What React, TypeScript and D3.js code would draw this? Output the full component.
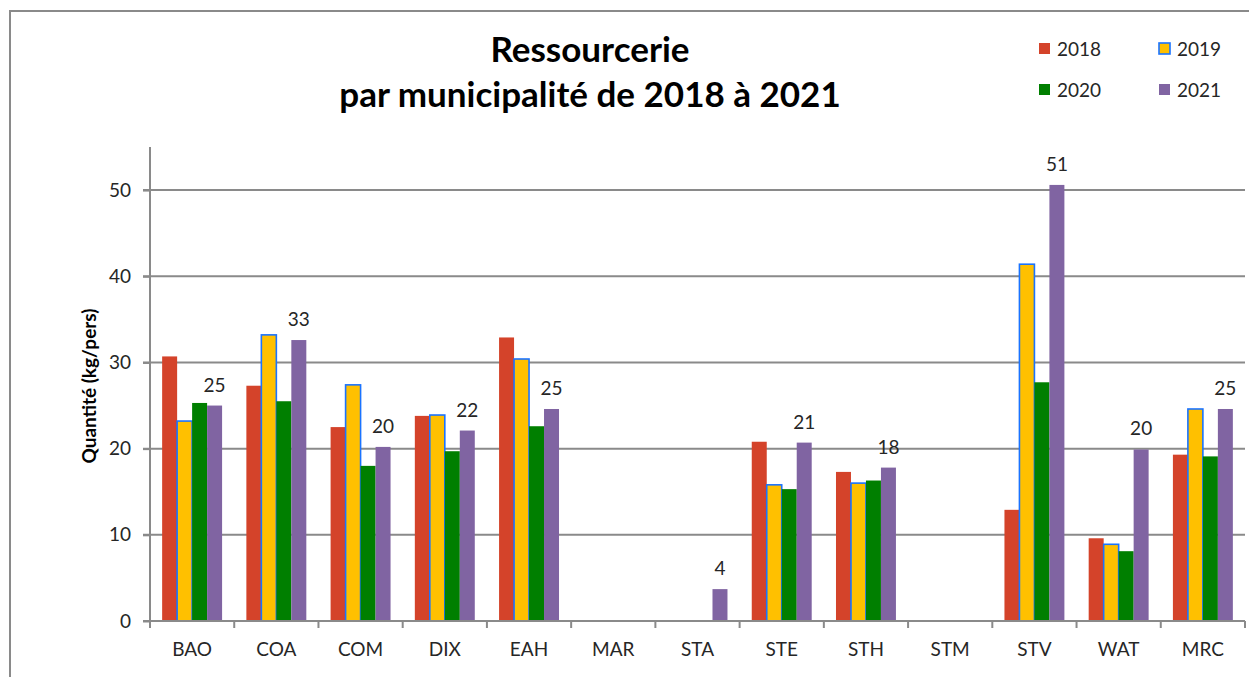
import { useEffect, useRef } from 'react';
import * as d3 from 'd3';

const categories = ['BAO', 'COA', 'COM', 'DIX', 'EAH', 'MAR', 'STA', 'STE', 'STH', 'STM', 'STV', 'WAT', 'MRC'];
const years = ['2018', '2019', '2020', '2021'];

// kg/pers, null = pas de donnée
const values2018 = [30.7, 27.3, 22.5, 23.8, 32.9, null, null, 20.8, 17.3, null, 12.9, 9.6, 19.3];
const values2019 = [23.2, 33.2, 27.4, 23.9, 30.4, null, null, 15.8, 16.0, null, 41.4, 8.9, 24.6];
const values2020 = [25.3, 25.5, 18.0, 19.7, 22.6, null, null, 15.3, 16.3, null, 27.7, 8.1, 19.1];
const values2021 = [25.0, 32.6, 20.2, 22.1, 24.6, null, 3.7, 20.7, 17.8, null, 50.6, 19.9, 24.6];

const yTicks = [0, 10, 20, 30, 40, 50];

const fills = ['#D4432A', '#FFC000', '#007F00', '#8064A2'];
const FONT = 'Lato, "Open Sans", sans-serif';
const TEXT = '#262626';
const GRID = '#8A8A8A';

const App: React.FC = () => {
  const svgRef = useRef<SVGSVGElement>(null);

  useEffect(() => {
    if (!svgRef.current) return;
    const svg = d3.select(svgRef.current);
    svg.selectAll('*').remove();

    const series = [values2018, values2019, values2020, values2021];
    const left = 150, right = 1245, top = 147, bottom = 621;

    const x0 = d3.scaleBand<string>().domain(categories).range([left, right]).padding(0);
    const x1 = d3.scaleBand<string>().domain(years).range([0, x0.bandwidth()]).paddingInner(0).paddingOuter(0.81);
    const y = d3.scaleLinear().domain([0, 55]).range([bottom, top]);

    // cadre
    svg.append('rect')
      .attr('x', 10).attr('y', 11)
      .attr('width', 1270).attr('height', 700)
      .style('fill', '#fff')
      .style('stroke', GRID)
      .style('stroke-width', '2px');

    // titre
    const title = svg.append('text')
      .attr('text-anchor', 'middle')
      .style('font-family', FONT)
      .style('font-weight', 'bold')
      .style('font-size', '35px')
      .style('fill', '#000');
    title.append('tspan').attr('x', 590).attr('y', 62).text('Ressourcerie');
    title.append('tspan').attr('x', 590).attr('y', 107).text('par municipalité de 2018 à 2021');

    // grille
    svg.append('g')
      .selectAll('line')
      .data(yTicks.filter(t => t > 0))
      .enter().append('line')
      .attr('x1', left - 7).attr('x2', right)
      .attr('y1', d => y(d)).attr('y2', d => y(d))
      .style('stroke', GRID).style('stroke-width', '2px');

    // axe y
    const yAxis = svg.append('g').attr('transform', `translate(${left},0)`)
      .call(d3.axisLeft(y).tickValues(yTicks).tickSize(7).tickPadding(12).tickFormat(d3.format('d')));
    yAxis.select('.domain').attr('d', `M0,${top}V${bottom + 7}`).style('stroke', GRID).style('stroke-width', '2px');
    yAxis.selectAll('.tick line').style('stroke', GRID).style('stroke-width', '2px');
    yAxis.selectAll('.tick text')
      .style('font-family', FONT).style('font-size', '19px').style('fill', TEXT);

    svg.append('text')
      .attr('transform', `translate(96,386) rotate(-90)`)
      .attr('text-anchor', 'middle')
      .style('font-family', FONT)
      .style('font-weight', 'bold')
      .style('font-size', '19px')
      .style('fill', '#000')
      .text('Quantité (kg/pers)');

    // barres
    const groups = svg.append('g')
      .selectAll('g')
      .data(categories)
      .enter().append('g')
      .attr('transform', d => `translate(${x0(d)},0)`);

    groups.selectAll('rect')
      .data((_d, i) => years.map((yr, s) => ({ yr, s, v: series[s][i] })).filter(d => d.v != null))
      .enter().append('rect')
      .attr('x', d => x1(d.yr)!)
      .attr('y', d => y(d.v as number))
      .attr('width', x1.bandwidth())
      .attr('height', d => y(0) - y(d.v as number))
      .style('fill', d => fills[d.s])
      .style('stroke', d => d.s === 1 ? '#1A73FF' : 'none')
      .style('stroke-width', '1.6px');

    // étiquettes 2021
    const labels = categories
      .map((c, i) => ({ c, v: values2021[i] }))
      .filter(d => d.v != null) as { c: string; v: number }[];
    svg.append('g')
      .selectAll('text')
      .data(labels)
      .enter().append('text')
      .attr('x', d => x0(d.c)! + x1('2021')! + x1.bandwidth() / 2)
      .attr('y', d => y(d.v) - 14)
      .attr('text-anchor', 'middle')
      .style('font-family', FONT).style('font-size', '19px').style('fill', TEXT)
      .text(d => d3.format('.0f')(d.v));

    // axe x
    svg.append('line')
      .attr('x1', left - 7).attr('x2', right)
      .attr('y1', bottom).attr('y2', bottom)
      .style('stroke', GRID).style('stroke-width', '2px');
    svg.append('g')
      .selectAll('line')
      .data([...categories.map(c => x0(c)!), right])
      .enter().append('line')
      .attr('x1', d => d).attr('x2', d => d)
      .attr('y1', bottom).attr('y2', bottom + 7)
      .style('stroke', GRID).style('stroke-width', '2px');
    svg.append('g')
      .selectAll('text')
      .data(categories)
      .enter().append('text')
      .attr('x', d => x0(d)! + x0.bandwidth() / 2)
      .attr('y', 656)
      .attr('text-anchor', 'middle')
      .style('font-family', FONT).style('font-size', '19px').style('fill', TEXT)
      .text(d => d);

    // légende
    const legend = svg.append('g')
      .selectAll('g')
      .data(years)
      .enter().append('g')
      .attr('transform', (_d, i) => `translate(${1039 + (i % 2) * 120},${43 + Math.floor(i / 2) * 41})`);
    legend.append('rect')
      .attr('width', 11).attr('height', 11)
      .style('fill', (_d, i) => fills[i])
      .style('stroke', (_d, i) => i === 1 ? '#1A73FF' : 'none')
      .style('stroke-width', '1.6px');
    legend.append('text')
      .attr('x', 18).attr('y', 12.5)
      .style('font-family', FONT).style('font-size', '19px').style('fill', TEXT)
      .text(d => d);
  }, []);

  return (
    <div style={{ position: 'absolute', left: 0, top: 0 }}>
      <svg ref={svgRef} width={1249} height={677} style={{ display: 'block' }}></svg>
    </div>
  );
};

export default App;
